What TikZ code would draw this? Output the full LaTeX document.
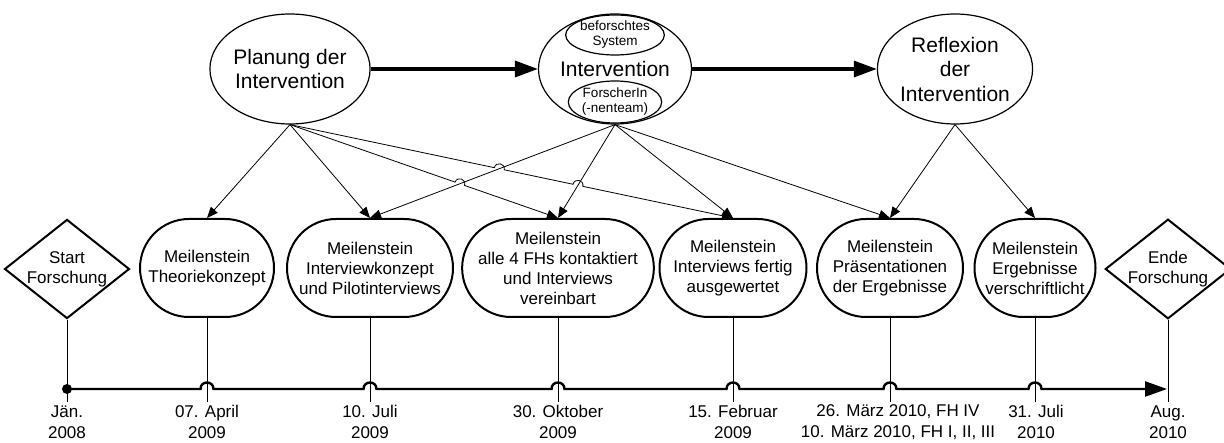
\documentclass[tikz,border=0pt]{standalone}
\usepackage{fontspec}
\setmainfont{Liberation Sans}
\usetikzlibrary{shapes.geometric,shapes.misc,arrows.meta,calc,intersections}
\begin{document}
\begin{tikzpicture}[x=1pt,y=-1pt,
  phase/.style={draw,ellipse,line width=1.2pt,minimum width=153pt,minimum height=110pt,inner sep=0pt,align=center,font=\fontsize{21}{24.5}\selectfont},
  sub/.style={draw,ellipse,line width=1.2pt,inner sep=0pt,align=center,font=\fontsize{13.5}{15}\selectfont},
  mile/.style={draw,rounded rectangle,line width=2pt,minimum height=98pt,inner sep=0pt,align=center,font=\fontsize{17}{20}\selectfont},
  dia/.style={draw,diamond,line width=2pt,minimum width=121pt,minimum height=96pt,inner sep=0pt,aspect=1.26,align=center,font=\fontsize{17}{20}\selectfont},
  date/.style={inner sep=0pt,align=center,font=\fontsize{17}{21}\selectfont},
  big/.style={line width=3.3pt,-{Triangle[length=23pt,width=16pt]}},
  conn/.style={line width=0.8pt,-{Triangle[length=11pt,width=9pt]}},
  vline/.style={line width=0.8pt},
  jump/.style={bend left=90,looseness=1.7}
]
\useasboundingbox (0,0) rectangle (1224,443);
% phases
\node[phase] (plan) at (290,69) {Planung der\\Intervention};
\node[phase] (int) at (615,69) {};
\node[font=\fontsize{21}{24.5}\selectfont,inner sep=0pt] (intt) at (615,69) {Intervention};
\node[sub,minimum width=92pt,minimum height=40pt] (sys) at (615,35) {beforschtes\\System};
\node[sub,minimum width=82pt,minimum height=42pt] (team) at (615,102) {ForscherIn\\(-nenteam)};
\node[phase] (refl) at (955,69) {Reflexion\\der\\Intervention};
\draw[big] (plan.east) -- (int.west);
\draw[big] (int.east) -- (refl.west);
% milestones
\node[dia] (start) at (67,269) {Start\\Forschung};
\node[mile,minimum width=134pt] (m1) at (207,268) {Meilenstein\\Theoriekonzept};
\node[mile,minimum width=166pt] (m2) at (370,268) {Meilenstein\\Interviewkonzept\\und Pilotinterviews};
\node[mile,minimum width=182pt] (m3) at (558,268) {Meilenstein\\alle 4 FHs kontaktiert\\und Interviews\\vereinbart};
\node[mile,minimum width=147pt] (m4) at (733,268) {Meilenstein\\Interviews fertig\\ausgewertet};
\node[mile,minimum width=146pt] (m5) at (890,268) {Meilenstein\\Präsentationen\\der Ergebnisse};
\node[mile,minimum width=121pt] (m6) at (1035,268) {Meilenstein\\Ergebnisse\\verschriftlicht};
\node[dia] (ende) at (1168,269) {Ende\\Forschung};
% connectors
\path[name path=pm3] (plan.south) -- (m3.north);
\path[name path=pm4] (plan.south) -- (m4.north);
\path[name path=im2] (int.south) -- (m2.north);
\path[name path=im3] (int.south) -- (m3.north);
\path[name intersections={of=pm3 and im2,by=j1}];
\path[name intersections={of=pm4 and im2,by=j2}];
\path[name intersections={of=pm4 and im3,by=j3}];
\draw[conn] (plan.south) -- (m1.north);
\draw[conn] (plan.south) -- (m2.north);
\draw[conn] (plan.south) -- ($(j1)!5pt!(plan.south)$) to[jump] ($(j1)!5pt!(m3.north)$) -- (m3.north);
\draw[conn] (plan.south) -- ($(j2)!5pt!(plan.south)$) to[jump] ($(j2)!5pt!(m4.north)$)
  -- ($(j3)!5pt!(plan.south)$) to[jump] ($(j3)!5pt!(m4.north)$) -- (m4.north);
\draw[conn] (int.south) -- (m2.north);
\draw[conn] (int.south) -- (m3.north);
\draw[conn] (int.south) -- (m4.north);
\draw[conn] (int.south) -- (m5.north);
\draw[conn] (refl.south) -- (m5.north);
\draw[conn] (refl.south) -- (m6.north);
% timeline
\coordinate (ts) at (67,389);
\coordinate (te) at (1167,389);
\coordinate (bot) at (0,402);
\foreach \n in {start,m1,m2,m3,m4,m5,m6,ende} {\draw[vline] (\n.south) -- (\n.south |- bot);}
\fill (ts) circle (5);
\draw[line width=2.4pt,-{Triangle[length=22pt,width=15pt]}] (ts)
  \foreach \n in {m1,m2,m3,m4,m5,m6} { -- ($(\n.south|-ts)+(-6.5,0)$) to[jump] ($(\n.south|-ts)+(6.5,0)$) }
  -- (te);
% dates
\node[date] (d0) at (67,422) {Jän.\\2008};
\node[date] (d1) at (207,422) {07. April\\2009};
\node[date] (d2) at (370,422) {10. Juli\\2009};
\node[date] (d3) at (558,422) {30. Oktober\\2009};
\node[date] (d4) at (733,422) {15. Februar\\2009};
\node[date] (d5) at (898,422) {26. März 2010, FH IV\\10. März 2010, FH I, II, III};
\node[date] (d6) at (1036,422) {31. Juli\\2010};
\node[date] (d7) at (1168,422) {Aug.\\2010};
\end{tikzpicture}
\end{document}
